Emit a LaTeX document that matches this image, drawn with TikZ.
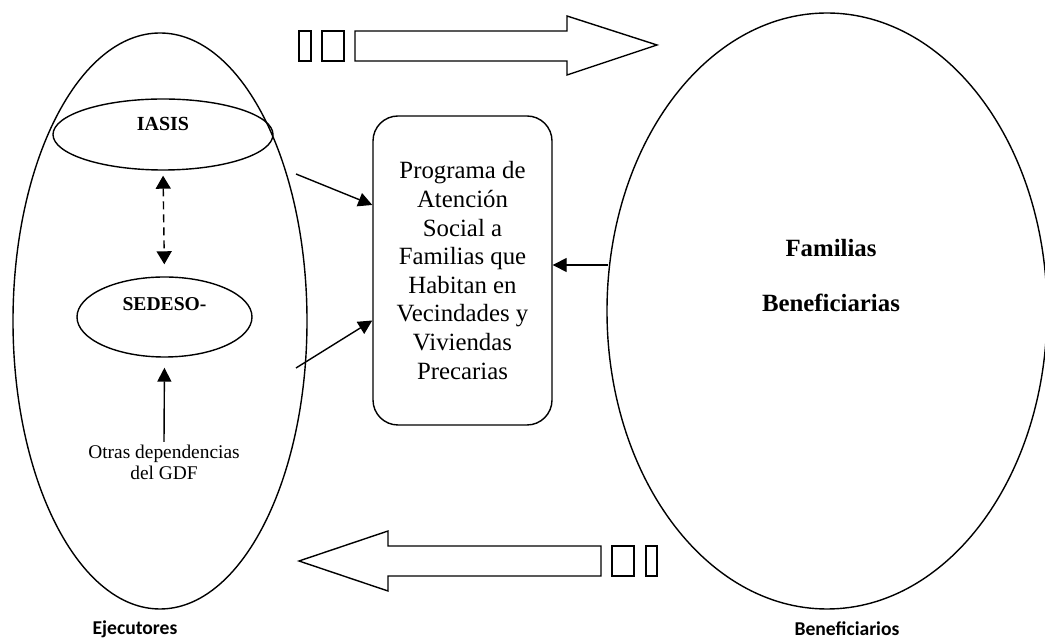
\documentclass[tikz,border=0pt]{standalone}
\usepackage{fontspec}
\setmainfont{Liberation Serif}
\newfontfamily\labelfont{Carlito}
\usetikzlibrary{arrows.meta,shapes.geometric}

\begin{document}
\begin{tikzpicture}[x=0.5pt, y=-0.5pt, line width=0.7pt,
    tip/.style={-{Triangle[length=7pt,width=7pt]}},
    oval/.style={draw, ellipse, inner sep=0pt},
    rotulo/.style={font=\labelfont\bfseries\fontsize{9.8}{11}\selectfont}]
    \useasboundingbox (0,0) rectangle (1045,640);
    % contenedores
    \node [oval, minimum width=147pt, minimum height=288pt] (ejec) at (160,321) {};
    \node [oval, minimum width=220pt, minimum height=298pt] (benef) at (827,311) {};
    \node [oval, minimum width=110pt, minimum height=35.5pt] (iasis) at (163,134.5) {};
    \node [oval, minimum width=87.5pt, minimum height=40pt] (sedeso) at (164.5,317) {};
    \node [font=\bfseries\fontsize{10}{12}\selectfont] at (163,124) {IASIS};
    \node [font=\bfseries\fontsize{9.8}{12}\selectfont] at (164.5,304) {SEDESO-};
    \node [font=\fontsize{9.7}{10.5}\selectfont, align=center, inner sep=1pt] (otras) at (164,462)
        {Otras dependencias\\del GDF};
    % programa
    \node [draw, rounded corners=12.5pt, minimum width=89.5pt, minimum height=154.5pt,
        align=center, font=\fontsize{12.4}{14.3}\selectfont] (prog) at (462.5,270.5)
        {Programa de\\Atención\\Social a\\Familias que\\Habitan en\\Vecindades y\\Viviendas\\Precarias};
    \node [font=\bfseries\fontsize{12.4}{14.3}\selectfont, align=center] at (831,275.5)
        {Familias\\[13pt]Beneficiarias};
    % etiquetas
    \node [rotulo] (ejecl) at (135,629) {Ejecutores};
    \node [rotulo] (benefl) at (847,629) {Beneficiarios};
    % conectores
    \coordinate (a1) at (296,174);
    \coordinate (a2) at (296,368);
    \coordinate (b1) at (608,265);
    \draw [tip] (a1) -- (prog.144.6);
    \draw [tip] (a2) -- (prog.209.5);
    \draw [tip] (b1) -- (b1 -| prog.east);
    \draw [{Triangle[length=6.5pt,width=7.5pt]}-{Triangle[length=6.5pt,width=7.5pt]},
        dash pattern=on 4pt off 2.5pt, shorten <=2.5pt, shorten >=6pt] (iasis.south) -- (sedeso.north);
    \draw [tip, shorten >=5pt] (otras.north) -- (sedeso.south);
    % flechas grandes
    \draw [line join=miter] (299,31) rectangle (311,61);
    \draw [line join=miter] (322,31) rectangle (344,61);
    \draw [line join=miter] (355,31) -- (567,31) -- (567,16) -- (657,45) -- (567,75)
        -- (567,61) -- (355,61) -- cycle;
    \draw [line join=miter] (612,546) rectangle (634,576);
    \draw [line join=miter] (646,546) rectangle (657,576);
    \draw [line join=miter] (601,546) -- (388,546) -- (388,531) -- (299,561) -- (388,591)
        -- (388,576) -- (601,576) -- cycle;
\end{tikzpicture}
\end{document}
